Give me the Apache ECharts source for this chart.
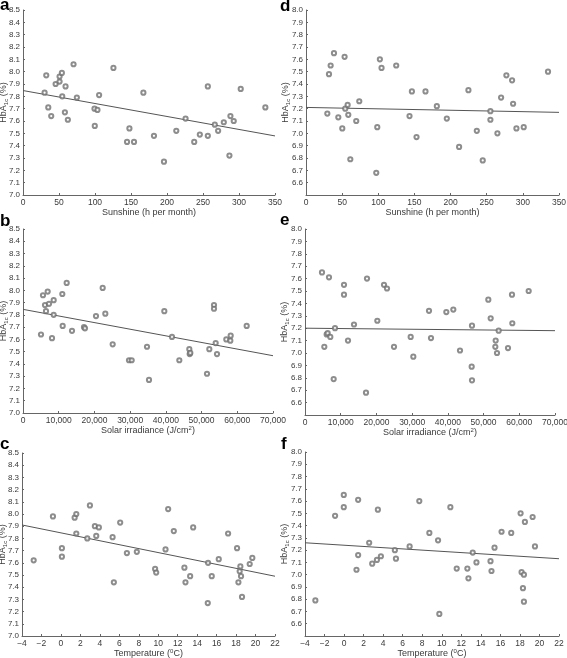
<!DOCTYPE html>
<html><head><meta charset="utf-8">
<script src="https://cdn.jsdelivr.net/npm/echarts@6/dist/echarts.min.js"></script>
<style>html,body{margin:0;padding:0;background:#fff}#c{width:567px;height:658px}</style>
</head><body><div id="c"></div>
<script>
// ---------- data ----------
// Panel a: sunshine vs HbA1c (group 1)
const sunshineA = [30.0,32.3,35.1,39.2,45.3,50.8,50.8,54.0,54.5,58.2,59.1,62.3,70.2,74.8,99.3,99.7,103.4,105.7,125.6,144.5,147.8,154.2,167.2,181.9,195.8,212.9,225.8,237.8,245.6,256.7,256.7,266.4,271.0,278.9,286.7,288.1,292.7,302.4,336.6];
const hbaA      = [7.83,7.97,7.71,7.64,7.90,7.96,7.92,7.99,7.80,7.67,7.88,7.61,8.06,7.79,7.70,7.56,7.69,7.81,8.03,7.43,7.54,7.43,7.83,7.48,7.27,7.52,7.62,7.43,7.49,7.88,7.48,7.57,7.52,7.59,7.32,7.64,7.60,7.86,7.71];
const fitAX = [0, 350];
const fitAY = [7.847, 7.479];

// Panel d: sunshine vs HbA1c (group 2)
const sunshineD = [29.5,31.8,34.1,38.7,44.7,50.2,53.4,54.3,57.6,58.5,61.3,69.5,73.7,97.2,98.6,102.2,104.5,124.8,143.2,146.5,152.9,165.3,181.0,194.8,211.8,224.7,236.3,244.5,255.1,255.1,264.8,269.9,277.2,285.1,286.5,291.1,301.2,334.8];
const hbaD      = [7.16,7.48,7.55,7.65,7.13,7.04,7.62,7.20,7.23,7.15,6.79,7.10,7.26,6.68,7.05,7.60,7.53,7.55,7.14,7.34,6.97,7.34,7.22,7.12,6.89,7.35,7.02,6.78,7.18,7.11,7.00,7.29,7.47,7.43,7.24,7.04,7.05,7.50];
const fitDX = [0, 350];
const fitDY = [7.21, 7.17];

// Panel b: solar irradiance vs HbA1c (group 1)
const irradB = [5040,5600,6160,6440,6910,7280,8120,8590,8590,11010,11110,12230,13720,17080,17360,20440,22310,23050,25110,29680,30430,34720,35280,39570,41720,43770,46570,46670,46850,51520,52170,53480,53480,53950,54320,56930,58050,58150,62630];
const hbaB   = [7.64,7.96,7.88,7.83,7.99,7.89,7.61,7.92,7.80,7.97,7.71,8.06,7.67,7.70,7.69,7.79,8.02,7.81,7.56,7.43,7.43,7.54,7.27,7.83,7.62,7.43,7.52,7.48,7.49,7.32,7.52,7.88,7.85,7.57,7.48,7.60,7.59,7.63,7.71];
const fitBX = [0, 70000];
const fitBY = [7.845, 7.467];

// Panel e: solar irradiance vs HbA1c (group 2)
const irradE = [4760,5410,6070,6350,6720,7090,8030,8400,10920,10920,12040,13720,17080,17360,20250,22120,22960,24920,29590,30330,34720,35280,39570,41530,43400,46670,46760,46760,51330,51990,53290,53390,53760,54230,56840,57960,58050,62630];
const hbaE   = [7.65,7.05,7.15,7.16,7.61,7.13,6.79,7.20,7.55,7.47,7.10,7.23,6.68,7.60,7.26,7.55,7.52,7.05,7.13,6.97,7.34,7.12,7.33,7.35,7.02,6.89,7.22,6.78,7.43,7.28,7.05,7.10,7.00,7.18,7.04,7.47,7.24,7.50];
const fitEX = [0, 70000];
const fitEY = [7.20, 7.18];

// Panel c: temperature vs HbA1c (group 1)
const tempC = [-2.80,-0.82,0.10,0.10,1.41,1.58,1.58,2.71,2.98,3.49,3.63,3.90,5.31,5.44,6.09,6.78,7.80,9.68,9.79,10.75,11.02,11.60,12.69,12.80,13.28,13.59,15.09,15.12,15.50,16.22,17.18,18.10,18.24,18.37,18.44,18.51,18.61,19.40,19.67];
const hbaC  = [7.62,7.98,7.72,7.65,7.97,8.00,7.84,7.80,8.07,7.90,7.82,7.89,7.81,7.44,7.93,7.68,7.69,7.55,7.52,7.71,8.04,7.86,7.56,7.44,7.49,7.89,7.27,7.60,7.49,7.63,7.84,7.72,7.44,7.53,7.57,7.49,7.32,7.59,7.64];
const fitCX = [-4, 22];
const fitCY = [7.91, 7.49];

// Panel f: temperature vs HbA1c (group 2)
const tempF = [-2.94,-0.92,-0.03,-0.03,1.27,1.44,1.44,2.57,2.88,3.36,3.46,3.77,5.20,5.31,6.71,7.70,8.73,9.62,9.75,10.88,11.53,12.62,12.73,13.17,13.55,14.99,15.09,15.40,16.12,17.11,18.07,18.17,18.31,18.41,18.41,18.51,19.30,19.54];
const hbaF  = [6.79,7.48,7.65,7.55,7.04,7.61,7.16,7.26,7.09,7.12,7.53,7.15,7.20,7.13,7.23,7.60,7.34,7.28,6.68,7.55,7.05,7.05,6.97,7.18,7.10,7.11,7.03,7.22,7.35,7.34,7.50,7.02,6.89,7.00,6.78,7.43,7.47,7.23];
const fitFX = [-4, 22];
const fitFY = [7.26, 7.13];

// axis ranges / labels
const panelLetters = ['a','d','b','e','c','f'];
const xNames = ['Sunshine (h per month)','Sunshine (h per month)','Solar irradiance (J/cm{sup|2})','Solar irradiance (J/cm{sup|2})','Temperature ({sup|0}C)','Temperature ({sup|0}C)'];
const yName = 'HbA{sub|1c} (%)';

// ---------- build ----------
const FONT = 'Liberation Sans, Arial, Helvetica, sans-serif';
const AX = '#666';
const TXT = '#3a3a3a';
const zip = (xs, ys) => xs.map((x, i) => [x, ys[i]]);

const panels = [
  {x: sunshineA, y: hbaA, fx: fitAX, fy: fitAY, xmin:0, xmax:350, xint:50, ymin:7.0, ymax:8.5, fmt:'plain', ngap:14, grid:{left:23, top:10, width:252, height:185}},
  {x: sunshineD, y: hbaD, fx: fitDX, fy: fitDY, xmin:0, xmax:350, xint:50, ymin:6.5, ymax:8.0, fmt:'plain', ngap:15, grid:{left:306, top:10, width:253, height:185}},
  {x: irradB, y: hbaB, fx: fitBX, fy: fitBY, xmin:0, xmax:70000, xint:10000, ymin:7.0, ymax:8.5, fmt:'comma', ngap:14, grid:{left:23, top:229, width:250, height:184}},
  {x: irradE, y: hbaE, fx: fitEX, fy: fitEY, xmin:0, xmax:70000, xint:10000, ymin:6.5, ymax:8.0, fmt:'comma', ngap:15, grid:{left:305, top:229, width:250, height:186}},
  {x: tempC, y: hbaC, fx: fitCX, fy: fitCY, xmin:-4, xmax:22, xint:2, ymin:7.0, ymax:8.5, fmt:'minus', ngap:14, grid:{left:22, top:453, width:253, height:183}},
  {x: tempF, y: hbaF, fx: fitFX, fy: fitFY, xmin:-4, xmax:22, xint:2, ymin:6.5, ymax:8.0, fmt:'minus', ngap:15, grid:{left:305, top:452, width:254, height:184}}
];

const fmtX = {
  plain: v => String(v),
  comma: v => v.toLocaleString('en-US'),
  minus: v => v < 0 ? '\u2212' + Math.abs(v) : String(v)
};

const grids = [], xAxes = [], yAxes = [], series = [];
panels.forEach((p, i) => {
  grids.push(Object.assign({outerBoundsMode: 'none', containLabel: false}, p.grid));
  xAxes.push({
    type: 'value', gridIndex: i, min: p.xmin, max: p.xmax, interval: p.xint,
    name: xNames[i], nameLocation: 'middle', nameGap: 12, nameMoveOverlap: false,
    nameTextStyle: {fontFamily: FONT, fontSize: 9, color: TXT, lineHeight: 11,
      rich: {sup: {fontFamily: FONT, fontSize: 6, color: TXT, verticalAlign: 'top', lineHeight: 11}}},
    axisLine: {show: true, onZero: false, lineStyle: {color: AX, width: 1}},
    axisTick: {show: true, inside: true, length: 2, lineStyle: {color: AX}},
    axisLabel: {fontFamily: FONT, fontSize: 8.5, color: TXT, margin: 3, formatter: fmtX[p.fmt]},
    splitLine: {show: false}
  });
  yAxes.push({
    type: 'value', gridIndex: i, min: p.ymin, max: p.ymax, interval: 0.1,
    name: yName, nameLocation: 'middle', nameGap: p.ngap, nameRotate: 90, nameMoveOverlap: false,
    nameTextStyle: {fontFamily: FONT, fontSize: 9, color: TXT, lineHeight: 11,
      rich: {sub: {fontFamily: FONT, fontSize: 6, color: TXT, verticalAlign: 'bottom', lineHeight: 11}}},
    axisLine: {show: true, onZero: false, lineStyle: {color: AX, width: 1}},
    axisTick: {show: true, inside: true, length: 2, lineStyle: {color: AX}},
    axisLabel: {fontFamily: FONT, fontSize: 8, color: TXT, margin: 3, showMinLabel: p.ymin === 7.0,
      formatter: v => v.toFixed(1)},
    splitLine: {show: false}
  });
  series.push({
    type: 'scatter', xAxisIndex: i, yAxisIndex: i, data: zip(p.x, p.y),
    symbol: 'emptyCircle', symbolSize: 4.2,
    itemStyle: {color: '#707070', borderColor: '#707070', borderWidth: 0.6},
    silent: true, z: 3
  });
  series.push({
    type: 'line', xAxisIndex: i, yAxisIndex: i, data: zip(p.fx, p.fy),
    showSymbol: false, symbol: 'none', lineStyle: {color: '#555', width: 1}, silent: true, z: 2
  });
});

const letterPos = [[0,-3],[280,-2],[0,213],[280,212],[0,436],[281,436]];
const graphics = panelLetters.map((t, i) => ({
  type: 'text', left: letterPos[i][0], top: letterPos[i][1], silent: true,
  style: {text: t, font: 'bold 17px ' + FONT, fill: '#000'}
}));

const chart = echarts.init(document.getElementById('c'), null, {renderer: 'canvas'});
chart.setOption({
  animation: false,
  backgroundColor: '#fff',
  grid: grids, xAxis: xAxes, yAxis: yAxes, series: series,
  graphic: graphics
});
</script>
</body></html>
